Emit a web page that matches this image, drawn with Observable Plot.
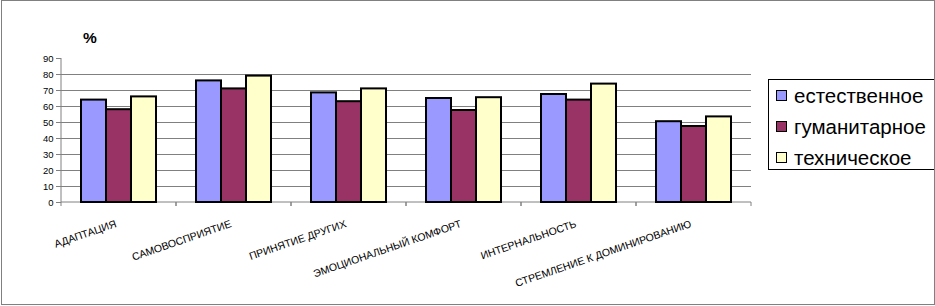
<!DOCTYPE html>
<html>
<head>
<meta charset="utf-8">
<script src="https://cdn.jsdelivr.net/npm/d3@7"></script>
<script src="https://cdn.jsdelivr.net/npm/@observablehq/plot@0.6"></script>
<style>
  body { margin: 0; background: #fff; }
  #wrap { position: relative; width: 935px; height: 306px; overflow: hidden; background: #fff;
          font-family: "Liberation Sans", Arial, sans-serif; }
  #frame { position: absolute; left: 1px; top: 0; width: 934px; height: 305px;
           border: 1px solid #808080; box-sizing: border-box; pointer-events: none; }
  #chart { position: absolute; left: 0; top: 0; }
  #unit { position: absolute; left: 83px; top: 29px; font-weight: bold; font-size: 15.5px; }
  #legend { position: absolute; left: 768px; top: 79px; width: 170px; height: 91px;
            border: 1px solid #000; box-sizing: border-box; background: #fff; }
  .row { height: 31px; line-height: 31px; display: flex; align-items: center; padding-left: 7px;
         font-size: 20.5px; color: #000; }
  .sw { width: 11px; height: 11px; border: 1.5px solid #000; box-sizing: border-box; margin-right: 7px; flex: none; }
</style>
</head>
<body>
<div id="wrap">
  <div id="chart"></div>
  <div id="unit">%</div>
  <div id="legend"></div>
  <div id="frame"></div>
</div>
<script>
const categories = ["АДАПТАЦИЯ", "САМОВОСПРИЯТИЕ", "ПРИНЯТИЕ ДРУГИХ", "ЭМОЦИОНАЛЬНЫЙ КОМФОРТ", "ИНТЕРНАЛЬНОСТЬ", "СТРЕМЛЕНИЕ К ДОМИНИРОВАНИЮ"];
const series = ["естественное", "гуманитарное", "техническое"];
const valuesNatural = [64, 76, 68.5, 65, 67.5, 50.5];
const valuesHumanities = [58, 71, 63, 57.5, 64, 47.5];
const valuesTechnical = [66, 79, 71, 65.5, 74, 53.5];
const colors = ["#9999FF", "#993366", "#FFFFCC"];
const yTicks = [0, 10, 20, 30, 40, 50, 60, 70, 80, 90];

const seriesValues = [valuesNatural, valuesHumanities, valuesTechnical];
const data = categories.flatMap((c, i) => series.map((s, j) => ({category: c, series: s, value: seriesValues[j][i]})));
const gridValues = yTicks.filter(v => v > 0 && v < 90);

// Axis lines: drawn in each facet's local coordinates (facet left edge = marginLeft)
let axisCalls = 0;
const axisLines = (index, scales, values, dims) => {
  const g = d3.create("svg:g");
  const y = scales.y;
  const L = dims.marginLeft;
  const full = dims.width - dims.marginRight - dims.marginLeft;
  const bw = scales.fx && scales.fx.bandwidth ? scales.fx.bandwidth() : full / categories.length;
  const y0 = y(0), yTop = y(yTicks[yTicks.length - 1]);
  const stroke = "#808080";
  if (axisCalls === 0) {
    g.append("line").attr("x1", L).attr("x2", L).attr("y1", y0).attr("y2", yTop)
      .attr("stroke", stroke).attr("stroke-width", 1);
  }
  axisCalls++;
  g.append("line").attr("x1", L).attr("x2", L + bw).attr("y1", y0).attr("y2", y0)
    .attr("stroke", stroke).attr("stroke-width", 1);
  for (const b of [L, L + bw]) {
    g.append("line").attr("x1", b).attr("x2", b).attr("y1", y0).attr("y2", y0 + 4)
      .attr("stroke", stroke).attr("stroke-width", 1);
  }
  return g.node();
};

const chart = Plot.plot({
  width: 760,
  height: 270,
  marginLeft: 59,
  marginRight: 7,
  marginTop: 58,
  marginBottom: 68,
  style: {fontFamily: "'Liberation Sans', Arial, sans-serif", fontSize: "9.5px", color: "#000", background: "transparent", overflow: "visible"},
  fx: {domain: categories, padding: 0, label: null, axis: null},
  x: {domain: series, paddingInner: 0, paddingOuter: 0.72, axis: null},
  y: {domain: [0, 90], label: null},
  color: {domain: series, range: colors},
  marks: [
    Plot.ruleY(gridValues, {stroke: "#808080", strokeWidth: 1, strokeOpacity: 1}),
    axisLines,
    Plot.barY(data, {fx: "category", x: "series", y: "value", fill: "series", stroke: "#000", strokeWidth: 2}),
    Plot.axisY({ticks: yTicks, tickSize: 5, tickPadding: 3, tickFormat: d => String(d), stroke: "#808080", label: null}),
    Plot.text(categories, {fx: d => d, text: d => d, frameAnchor: "bottom", rotate: -19, textAnchor: "end",
      lineAnchor: "middle", dy: 21, dx: -3, fontSize: 10.5, fill: "#000"})
  ]
});
document.getElementById("chart").appendChild(chart);

const legend = document.getElementById("legend");
series.forEach((s, j) => {
  const row = document.createElement("div");
  row.className = "row";
  const sw = document.createElement("span");
  sw.className = "sw";
  sw.style.background = colors[j];
  const t = document.createElement("span");
  t.textContent = s;
  row.appendChild(sw);
  row.appendChild(t);
  legend.appendChild(row);
});
</script>
</body>
</html>
